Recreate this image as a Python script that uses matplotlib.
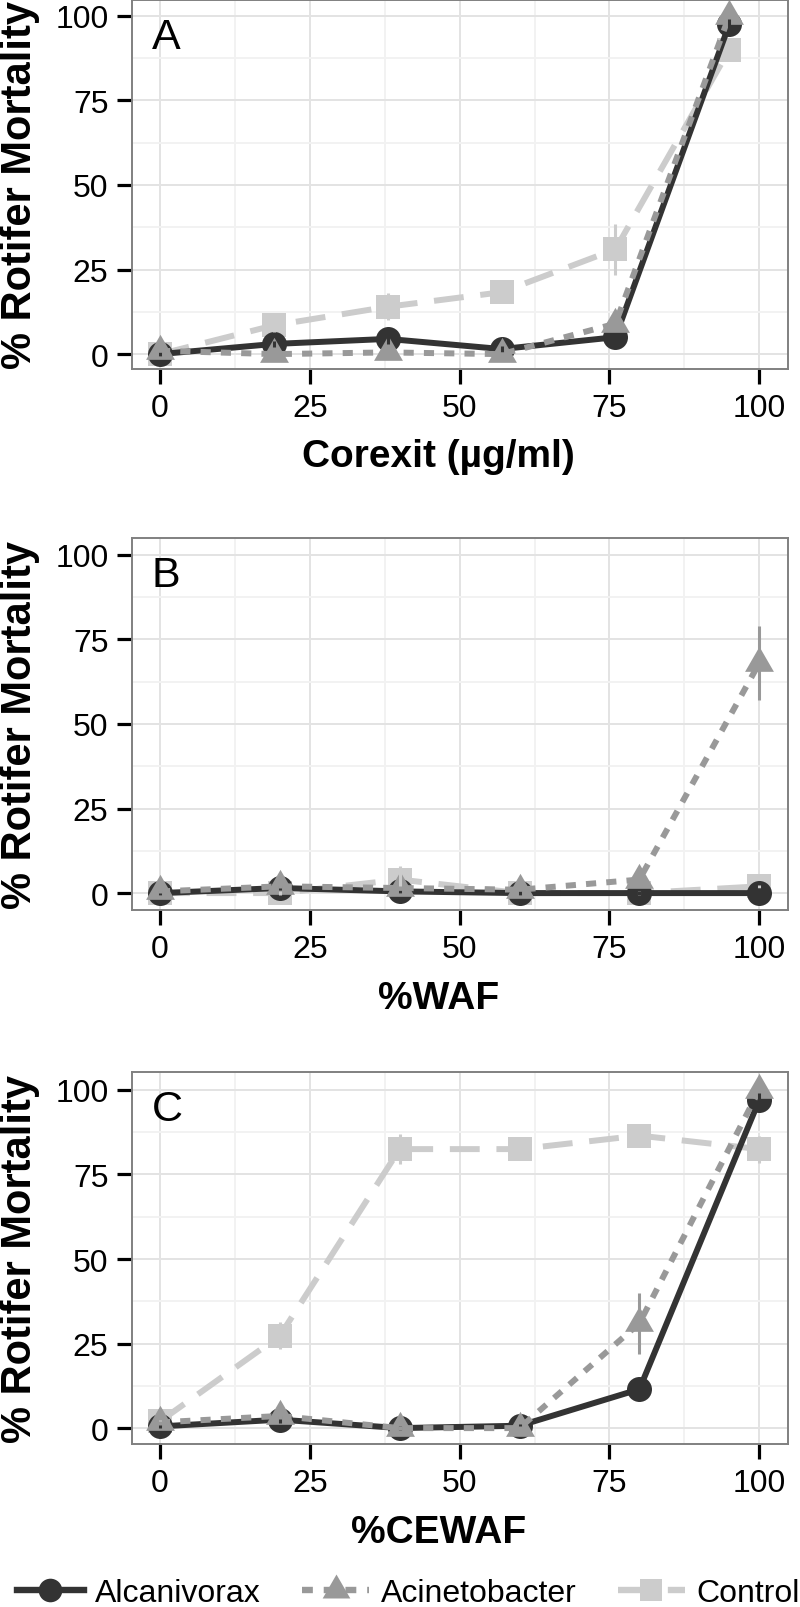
import numpy as np
import matplotlib.pyplot as plt
from matplotlib.lines import Line2D
from matplotlib.path import Path

plt.rcParams['font.family'] = ['Liberation Sans', 'DejaVu Sans']

# data
series = ['Alcanivorax', 'Acinetobacter', 'Control']
colors = ['#333333', '#999999', '#CCCCCC']

x_corexit = [0, 19, 38, 57, 76, 95]
x_pct = [0, 20, 40, 60, 80, 100]

# panel A - Corexit
a_alc = [0, 3, 4.5, 1.5, 5, 97.5]
a_alc_err = [0.5, 1, 1.5, 1, 1, 1.5]
a_acin = [1, 0, 0.5, 0, 9, 100]
a_acin_err = [0.5, 0.5, 0.5, 0.5, 1.5, 0.5]
a_ctrl = [0, 8.5, 14, 18.3, 31, 90]
a_ctrl_err = [0.5, 2, 4, 3, 7.5, 1]

# panel B - %WAF
b_alc = [0, 1.5, 0.5, 0, 0, 0]
b_alc_err = [0.5, 0.5, 0.5, 0.5, 0.5, 1.5]
b_acin = [0.5, 2, 1.5, 1, 4, 68]
b_acin_err = [0.5, 0.5, 0.5, 0.5, 0.5, 11]
b_ctrl = [0, 0, 4, 0, 0, 2]
b_ctrl_err = [0.5, 0.5, 4, 0.5, 0.5, 0.5]

# panel C - %CEWAF
c_alc = [0.5, 2.5, 0, 0.7, 11.5, 97]
c_alc_err = [0.5, 1, 0.5, 0.5, 1, 2]
c_acin = [1.7, 3.6, 0, 0, 31, 100]
c_acin_err = [0.5, 1, 0.5, 0.5, 9, 0.5]
c_ctrl = [2, 27.3, 82.5, 82.5, 86.5, 82.5]
c_ctrl_err = [0.5, 4, 4.5, 1, 1, 4]

panels = [
    ('A', 'Corexit (µg/ml)', x_corexit,
     [(a_alc, a_alc_err), (a_acin, a_acin_err), (a_ctrl, a_ctrl_err)], (-4.4, 104.7)),
    ('B', '%WAF', x_pct,
     [(b_alc, b_alc_err), (b_acin, b_acin_err), (b_ctrl, b_ctrl_err)], (-5.0, 105.0)),
    ('C', '%CEWAF', x_pct,
     [(c_alc, c_alc_err), (c_acin, c_acin_err), (c_ctrl, c_ctrl_err)], (-4.7, 105.3)),
]

# ggplot-style filled triangle, centred on its centroid
tri = Path([(0, 1.555), (1.347, -0.778), (-1.347, -0.778), (0, 1.555)],
           [Path.MOVETO, Path.LINETO, Path.LINETO, Path.CLOSEPOLY])
markers = ['o', tri, 's']
msizes = [18, 24, 17]
dashes = [None, (1.7, 1.7), (5.0, 2.8)]
draw_order = [2, 0, 1]  # control underneath, then alcanivorax, acinetobacter

fig = plt.figure(figsize=(8, 16.08), dpi=100)
rects = [[0.165, 0.7699, 0.82, 0.2295],
         [0.165, 0.43346, 0.82, 0.23134],
         [0.165, 0.10137, 0.82, 0.23134]]

for rect, (letter, xlabel, xs, data, ylim) in zip(rects, panels):
    ax = fig.add_axes(rect)
    for k, i in enumerate(draw_order):
        y, err = data[i]
        kw = dict(color=colors[i], lw=4.3, marker=markers[i], ms=msizes[i],
                  markeredgewidth=0, zorder=2 + k * 0.1)
        if dashes[i] is not None:
            kw['dashes'] = dashes[i]
        ax.plot(xs, y, **kw)
        ax.errorbar(xs, y, yerr=err, fmt='none', ecolor=colors[i],
                    elinewidth=2.2, capsize=0, zorder=3 + k * 0.1)

    ax.set_xlim(-4.67, 104.8)
    ax.set_ylim(*ylim)
    ax.set_xticks([0, 25, 50, 75, 100])
    ax.set_yticks([0, 25, 50, 75, 100])
    ax.set_xticks([12.5, 37.5, 62.5, 87.5], minor=True)
    ax.set_yticks([12.5, 37.5, 62.5, 87.5], minor=True)
    ax.grid(which='major', color='#E3E3E3', lw=1.4, zorder=0)
    ax.grid(which='minor', color='#F2F2F2', lw=1.4, zorder=0)
    ax.set_axisbelow(True)
    ax.tick_params(which='major', direction='out', length=11, width=2.3,
                   labelsize=23, pad=6, color='black')
    ax.tick_params(which='minor', length=0)
    for s in ax.spines.values():
        s.set_color('#808080')
        s.set_linewidth(1.4)

    ax.set_xlabel(xlabel, fontsize=28, fontweight='bold')
    ax.xaxis.set_label_coords(0.467, -0.236)
    ax.xaxis.label.set_va('center')
    ax.set_ylabel('% Rotifer Mortality', fontsize=30, fontweight='bold')
    ax.yaxis.set_label_coords(-0.17, 0.5)
    ax.yaxis.label.set_va('center')

    ax.text(0.03, 0.955, letter, transform=ax.transAxes, fontsize=31,
            ha='left', va='top')

handles = []
for i in range(3):
    kw = dict(color=colors[i], lw=4.6, marker=markers[i], ms=msizes[i] - 1,
              markeredgewidth=0)
    if dashes[i] is not None:
        kw['dashes'] = dashes[i]
    handles.append(Line2D([], [], **kw))

fig.legend(handles, series, loc='center left', bbox_to_anchor=(0.021, 0.0087),
           ncol=3, frameon=False, fontsize=23, handlelength=2.1,
           handletextpad=0.35, columnspacing=1.3, borderpad=0, borderaxespad=0)

fig.savefig('out.png', dpi=100)
